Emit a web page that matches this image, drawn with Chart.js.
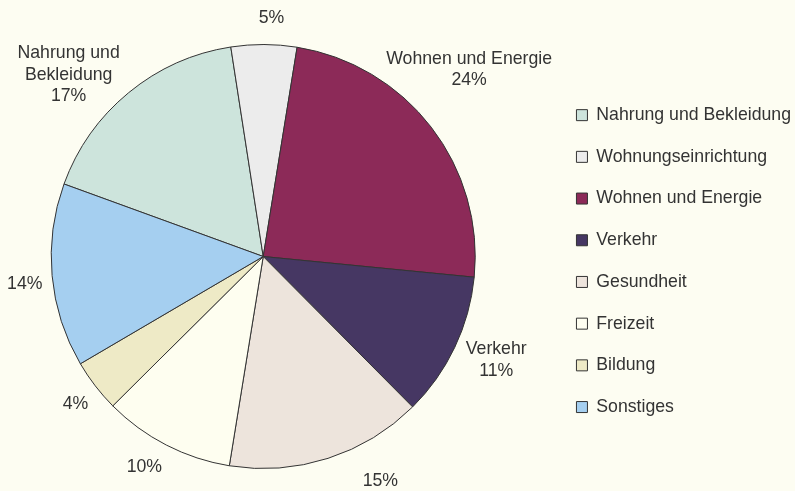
<!DOCTYPE html>
<html>
<head>
<meta charset="utf-8">
<script src="https://cdn.jsdelivr.net/npm/chart.js@4"></script>
<style>
  html, body { margin: 0; padding: 0; background: #fdfdf2; overflow: hidden; }
  /* canvas a bit wider than the window, shifted left, so the pie sits where it does in the original */
  #wrap { width: 827px; height: 491px; margin-left: -26px; }
</style>
</head>
<body>
<div id="wrap"><canvas id="c"></canvas></div>
<script>
const categories = ["Nahrung und Bekleidung", "Wohnungseinrichtung", "Wohnen und Energie", "Verkehr",
  "Gesundheit", "Freizeit", "Bildung", "Sonstiges"];
const values = [17, 5, 24, 11, 15, 10, 4, 14];
// text shown next to slices (above the percentage)
const labelNames = [["Nahrung und", "Bekleidung"], [], ["Wohnen und Energie"], ["Verkehr"], [], [], [], []];

const colors = ["#cde4dc", "#ececec", "#8c2a58", "#463763", "#ede4dc", "#fefef0", "#eeeac6", "#a5cff0"];
const FONT = '"Liberation Sans", Arial, sans-serif';

// label placement: angle nudge (deg) from slice middle, distance as factor of radius
const place = [
  { da: -7.6, r: 1.255 }, { da: 1.8, r: 1.123 }, { da: -4.6, r: 1.311 }, { da: -1.4, r: 1.203 },
  { da: -9.8, r: 1.193 }, { da: 2.2, r: 1.142 }, { da: -0.6, r: 1.127 }, { da: -1.3, r: 1.132 }
];

const pieLabels = {
  id: "pieLabels",
  afterDatasetsDraw(chart) {
    const ctx = chart.ctx;
    const meta = chart.getDatasetMeta(0);
    ctx.save();
    ctx.font = "17.7px " + FONT;
    ctx.fillStyle = "#333";
    ctx.textAlign = "center";
    ctx.textBaseline = "middle";
    meta.data.forEach((arc, i) => {
      const p = arc.getProps(["x", "y", "startAngle", "endAngle", "outerRadius"], true);
      const a = (p.startAngle + p.endAngle) / 2 + place[i].da * Math.PI / 180;
      const d = p.outerRadius * place[i].r;
      const px = p.x + Math.cos(a) * d;
      const py = p.y + Math.sin(a) * d;
      const lines = [...labelNames[i], values[i] + "%"];
      const lh = 21.5;
      lines.forEach((t, k) => ctx.fillText(t, px, py + (k - (lines.length - 1) / 2) * lh));
    });
    ctx.restore();
  }
};

new Chart(document.getElementById("c"), {
  type: "pie",
  data: {
    labels: categories,
    datasets: [{
      data: values,
      backgroundColor: colors,
      borderColor: "#333",
      borderWidth: 1,
      hoverOffset: 0
    }]
  },
  options: {
    responsive: true,
    maintainAspectRatio: false,
    animation: false,
    rotation: -70,
    events: [],
    layout: { padding: { left: 0, right: 0, top: 44, bottom: 22 } },
    plugins: {
      tooltip: { enabled: false },
      legend: {
        position: "right",
        // empty title only used to nudge the items down a little
        title: { display: true, text: " ", font: { size: 1 }, padding: { top: 4, bottom: 4 } },
        labels: {
          boxWidth: 11,
          boxHeight: 11,
          padding: 24,
          color: "#333",
          font: { family: FONT, size: 17.7 }
        }
      }
    }
  },
  plugins: [pieLabels]
});
</script>
</body>
</html>
